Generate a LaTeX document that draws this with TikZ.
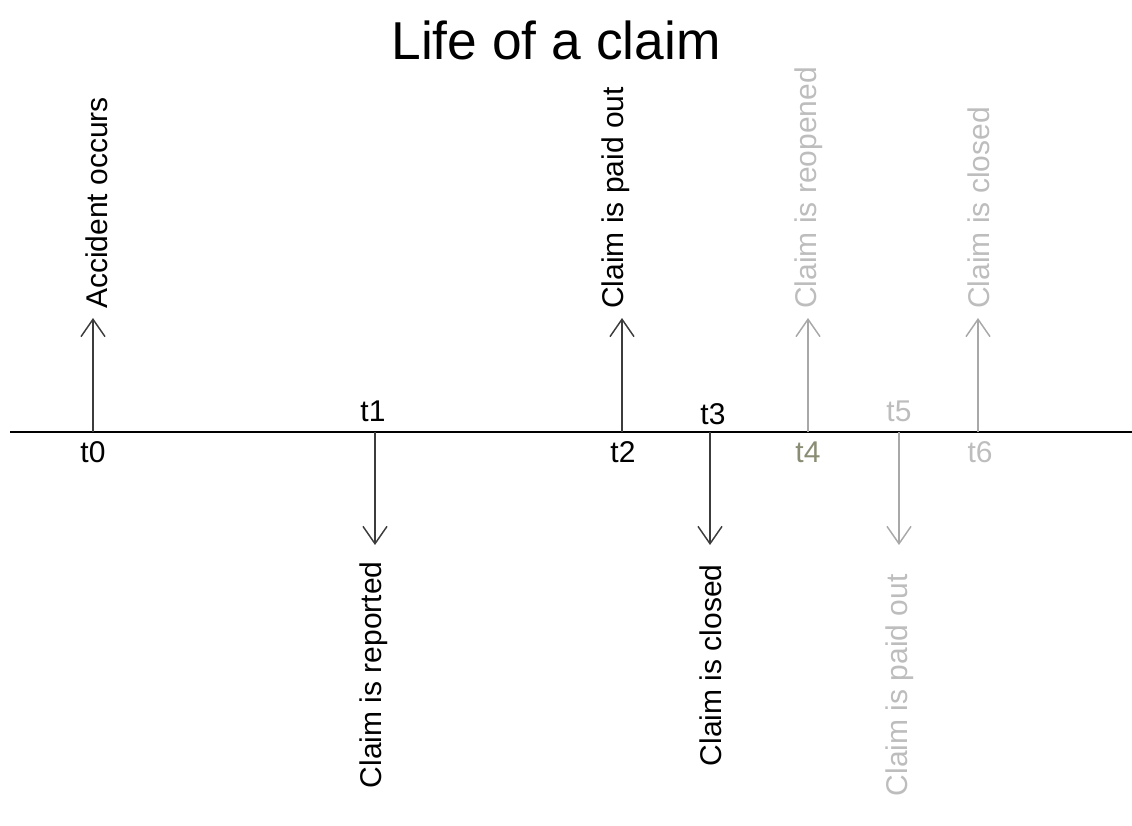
\documentclass[tikz,border=0pt]{standalone}
\usepackage{fontspec}
\setmainfont{Liberation Sans}
\usetikzlibrary{positioning,arrows.meta}
\definecolor{evdark}{HTML}{3C3C3C}
\definecolor{evgrey}{HTML}{A8A8A8}
\definecolor{txgrey}{HTML}{BDBDBD}
\definecolor{tolive}{HTML}{8A8D74}
\tikzset{
  axis/.style={line width=1.1pt,draw=black},
  event/.style={line width=1.1pt,draw=evdark,-{Straight Barb[length=13pt,width=18pt,line width=1.1pt]}},
  eventgrey/.style={event,draw=evgrey},
  % event texts run bottom to top
  evtext/.style={rotate=90,inner sep=0pt,font=\fontsize{22.5}{27}\selectfont},
  evup/.style={evtext,anchor=west},
  evdown/.style={evtext,anchor=east},
  tlab/.style={inner sep=0pt,font=\fontsize{22.5}{27}\selectfont},
  title/.style={inner sep=0pt,font=\fontsize{40}{48}\selectfont},
}
\begin{document}
\begin{tikzpicture}[x=0.75pt,y=-0.75pt]
  \useasboundingbox (0,0) rectangle (1132,825);
  \node[title] (ttl) at (556,40) {Life of a claim};
  % the time axis
  \coordinate (axL) at (10,432); \coordinate (axR) at (1132,432);
  \draw[axis] (axL) -- (axR);
  % t0: accident
  \coordinate (a0) at (93,432); \coordinate (e0) at (93,318);
  \draw[event] (a0) -- (e0);
  \node[evup] (l0) at (97,309) {Accident occurs};
  \node[tlab] (n0) at (93,452) {t0};
  % t1: reported
  \coordinate (a1) at (375,432); \coordinate (e1) at (375,545);
  \draw[event] (a1) -- (e1);
  \node[evdown] (l1) at (374,561) {Claim is reported};
  \node[tlab] (n1) at (373,411) {t1};
  % t2: paid out
  \coordinate (a2) at (622,432); \coordinate (e2) at (622,318);
  \draw[event] (a2) -- (e2);
  \node[evup] (l2) at (616,309) {Claim is paid out};
  \node[tlab] (n2) at (623,452) {t2};
  % t3: closed
  \coordinate (a3) at (710,432); \coordinate (e3) at (710,545);
  \draw[event] (a3) -- (e3);
  \node[evdown] (l3) at (711,564) {Claim is closed};
  \node[tlab] (n3) at (713,414) {t3};
  % the later, possible events in grey
  \coordinate (a4) at (808,432); \coordinate (e4) at (808,318);
  \draw[eventgrey] (a4) -- (e4);
  \node[evup,text=txgrey] (l4) at (809,309) {Claim is reopened};
  \node[tlab,text=tolive] (n4) at (808,452) {t4};
  \coordinate (a5) at (899,432); \coordinate (e5) at (899,545);
  \draw[eventgrey] (a5) -- (e5);
  \node[evdown,text=txgrey] (l5) at (900,574) {Claim is paid out};
  \node[tlab,text=txgrey] (n5) at (899,411) {t5};
  \coordinate (a6) at (978,432); \coordinate (e6) at (978,318);
  \draw[eventgrey] (a6) -- (e6);
  \node[evup,text=txgrey] (l6) at (979,309) {Claim is closed};
  \node[tlab,text=txgrey] (n6) at (980,452) {t6};
\end{tikzpicture}
\end{document}
